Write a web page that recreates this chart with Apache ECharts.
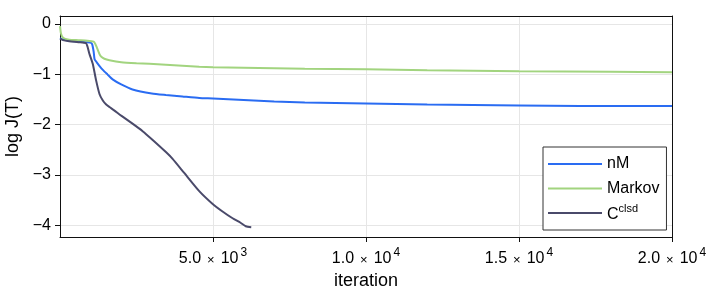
<!DOCTYPE html>
<html><head><meta charset="utf-8">
<script src="https://cdn.jsdelivr.net/npm/echarts@6/dist/echarts.min.js"></script>
<style>html,body{margin:0;padding:0;background:#fff}#c{width:713px;height:296px}</style>
</head><body><div id="c"></div>
<script>
// ---- data ----
const seriesNames = ['nM', 'Markov', 'Cclsd'];
const seriesColors = ['#2a6cf2', '#a2d47f', '#4a4a6a'];

const nM_x = [1, 100, 300, 600, 900, 1000, 1050, 1100, 1130, 1200, 1300, 1400, 1550, 1720, 2000, 2370, 3000, 3460, 4000, 4550, 5000, 6000, 7000, 8000, 10000, 12000, 15000, 17000, 20000];
const nM_y = [-0.28, -0.31, -0.33, -0.35, -0.36, -0.37, -0.40, -0.55, -0.70, -0.76, -0.84, -0.91, -1.00, -1.10, -1.20, -1.30, -1.38, -1.41, -1.44, -1.47, -1.48, -1.51, -1.54, -1.56, -1.58, -1.60, -1.62, -1.63, -1.63];

const markov_x = [1, 30, 80, 150, 300, 600, 900, 1100, 1150, 1200, 1250, 1300, 1350, 1450, 1615, 2000, 2500, 2920, 4000, 4550, 5000, 6000, 8000, 10000, 12000, 15000, 18000, 20000];
const markov_y = [-0.04, -0.18, -0.26, -0.29, -0.31, -0.32, -0.33, -0.35, -0.39, -0.46, -0.54, -0.61, -0.65, -0.69, -0.72, -0.76, -0.78, -0.79, -0.83, -0.85, -0.86, -0.87, -0.89, -0.90, -0.92, -0.94, -0.95, -0.96];

const cclsd_x = [1, 100, 300, 600, 850, 900, 960, 1070, 1180, 1290, 1400, 1510, 1620, 1780, 2000, 2370, 2700, 3020, 3470, 3680, 4060, 4550, 4980, 5300, 5640, 5900, 6070, 6250];
const cclsd_y = [-0.29, -0.32, -0.34, -0.36, -0.38, -0.45, -0.59, -0.79, -1.12, -1.39, -1.52, -1.60, -1.65, -1.72, -1.82, -1.98, -2.13, -2.30, -2.55, -2.68, -2.96, -3.32, -3.57, -3.72, -3.86, -3.95, -4.02, -4.04];

const xTickValues = [5000, 10000, 15000, 20000];
const xTickMantissa = ['5.0', '1.0', '1.5', '2.0'];
const xTickExponent = ['3', '4', '4', '4'];
const yTickValues = [-4, -3, -2, -1, 0];

// ---- chart ----
const FONT = '"Liberation Sans", Arial, Helvetica, sans-serif';
const TXT = '#000';
const FRAME = '#111';
function pairs(xs, ys) { return xs.map((x, i) => [x, ys[i]]); }
const dataList = [pairs(nM_x, nM_y), pairs(markov_x, markov_y), pairs(cclsd_x, cclsd_y)];

const frameAxisCommon = {
  axisLabel: { show: false }, axisTick: { show: false }, splitLine: { show: false },
  axisLine: { show: true, onZero: false, lineStyle: { color: FRAME, width: 1 } }
};

const chart = echarts.init(document.getElementById('c'), null, { renderer: 'canvas' });
chart.setOption({
  animation: false,
  backgroundColor: '#fff',
  textStyle: { fontFamily: FONT },
  grid: { left: 60, right: 41, top: 16, bottom: 59, containLabel: false, outerBoundsMode: 'none', show: false },
  xAxis: [{
    type: 'value', min: 0, max: 20000, interval: 5000, position: 'bottom',
    name: 'iteration', nameLocation: 'middle', nameGap: 27,
    nameTextStyle: { fontFamily: FONT, fontSize: 18, color: TXT },
    axisLine: { show: true, onZero: false, lineStyle: { color: FRAME, width: 1 } },
    axisTick: { show: true, length: 5, lineStyle: { color: FRAME }, customValues: xTickValues },
    axisLabel: {
      customValues: xTickValues, margin: 10, color: TXT, fontFamily: FONT,
      formatter: function (v) {
        const i = xTickValues.indexOf(v);
        if (i < 0) return '';
        return '{m|' + xTickMantissa[i] + '}{x|×}{m|10}{s|' + xTickExponent[i] + '}';
      },
      rich: {
        m: { fontSize: 16, fontFamily: FONT, color: TXT, verticalAlign: 'bottom', lineHeight: 20 },
        x: { fontSize: 13, fontFamily: FONT, color: TXT, padding: [0, 6, 0, 6], verticalAlign: 'bottom', lineHeight: 18 },
        s: { fontSize: 12, fontFamily: FONT, color: TXT, verticalAlign: 'top', padding: [0, 0, 0, 2], lineHeight: 12 }
      }
    },
    splitLine: { show: true, lineStyle: { color: '#e6e6e6', width: 1 } }
  }, Object.assign({ type: 'value', min: 0, max: 20000, position: 'top' }, frameAxisCommon)],
  yAxis: [{
    type: 'value', min: -4.233, max: 0.16, position: 'left',
    name: 'log J(T)', nameLocation: 'middle', nameGap: 38,
    nameTextStyle: { fontFamily: FONT, fontSize: 18, color: TXT },
    axisLine: { show: true, onZero: false, lineStyle: { color: FRAME, width: 1 } },
    axisTick: { show: true, length: 5, lineStyle: { color: FRAME }, customValues: yTickValues },
    axisLabel: {
      customValues: yTickValues, margin: 9, fontSize: 16, color: TXT, fontFamily: FONT,
      formatter: function (v) { return String(v).replace('-', '\u2212'); }
    },
    splitLine: { show: true, lineStyle: { color: '#e6e6e6', width: 1 } }
  }, Object.assign({ type: 'value', min: -4.233, max: 0.16, position: 'right' }, frameAxisCommon)],
  legend: {
    orient: 'vertical', left: 543, top: 147,
    data: seriesNames,
    icon: 'rect', itemWidth: 54, itemHeight: 2, itemGap: 4.5,
    padding: [7, 7, 7, 5],
    borderColor: '#333', borderWidth: 1, backgroundColor: '#fff',
    textStyle: {
      fontSize: 16, lineHeight: 20, color: TXT, fontFamily: FONT,
      rich: {
        n: { fontSize: 16, color: TXT, fontFamily: FONT, lineHeight: 20 },
        c: { fontSize: 16, color: TXT, fontFamily: FONT, lineHeight: 20, verticalAlign: 'bottom' },
        s: { fontSize: 11, color: TXT, fontFamily: FONT, verticalAlign: 'top', lineHeight: 11 }
      }
    },
    formatter: function (name) {
      if (name === 'Cclsd') return '{c|C}{s|clsd}';
      return '{n|' + name + '}';
    }
  },
  series: seriesNames.map((name, i) => ({
    name: name, type: 'line', data: dataList[i],
    xAxisIndex: 0, yAxisIndex: 0,
    showSymbol: false, symbol: 'none',
    smooth: 0.2,
    color: seriesColors[i],
    lineStyle: { color: seriesColors[i], width: 2 },
    clip: true
  }))
});
</script>
</body></html>
